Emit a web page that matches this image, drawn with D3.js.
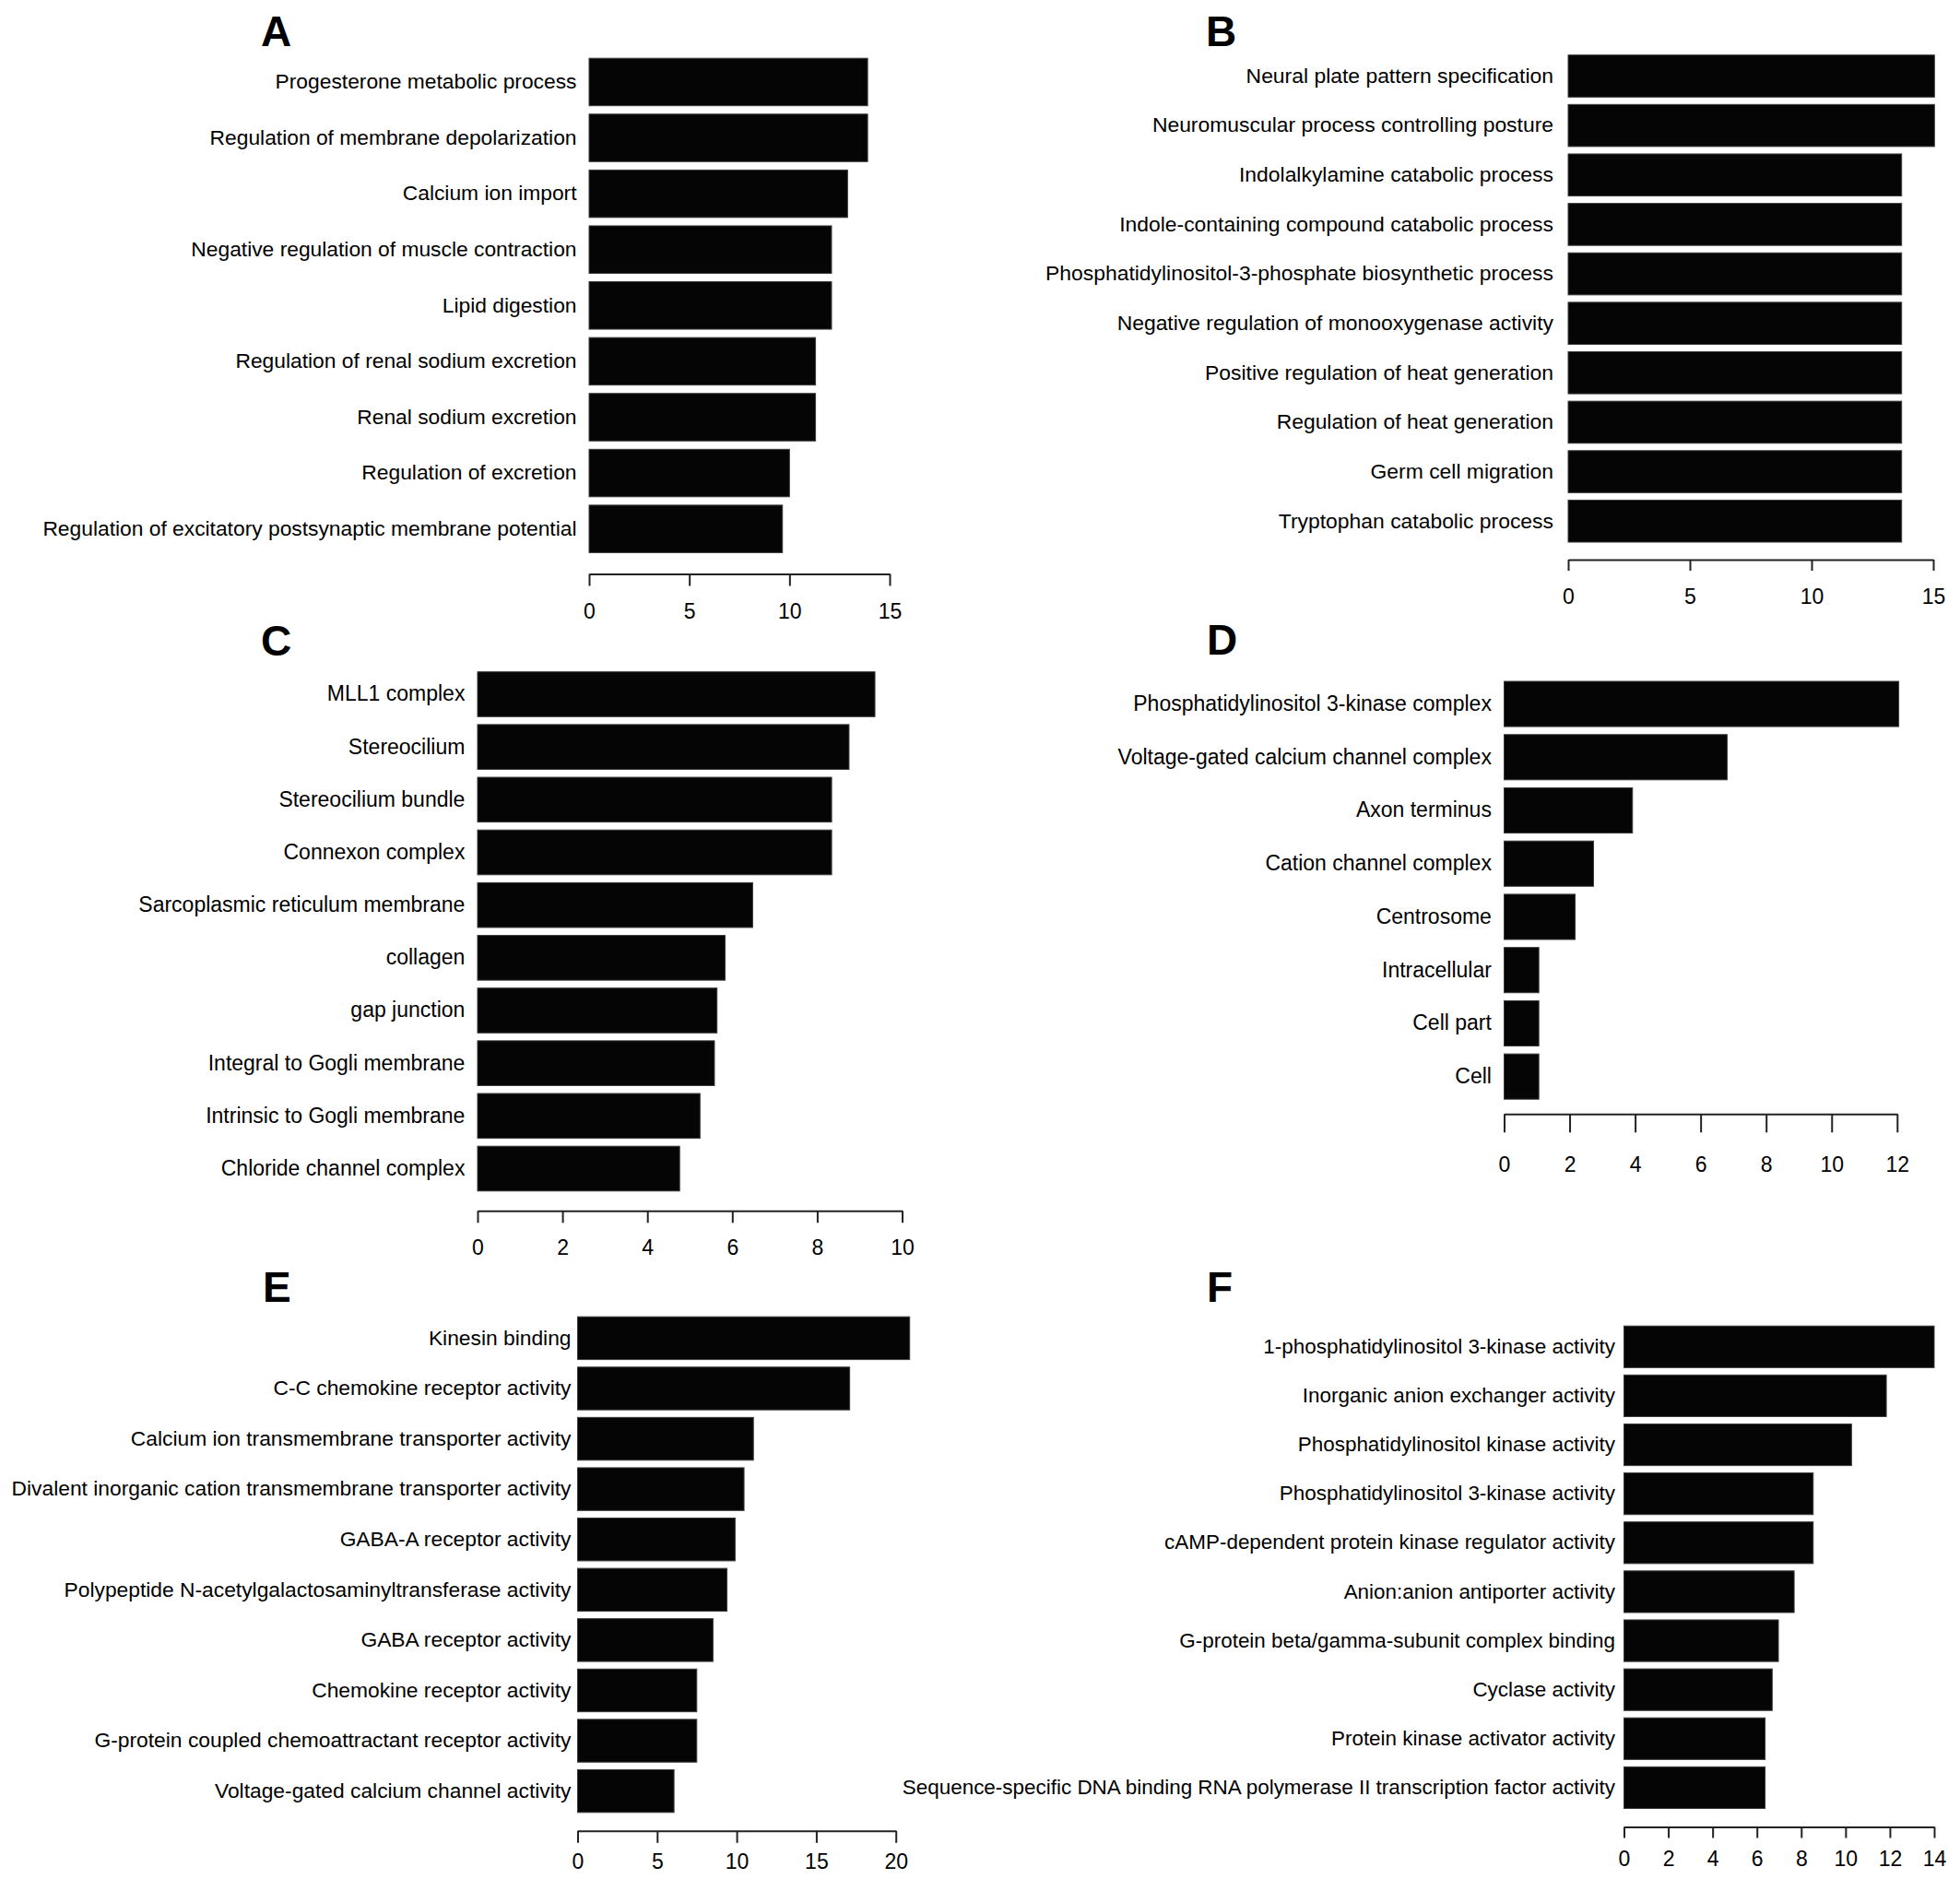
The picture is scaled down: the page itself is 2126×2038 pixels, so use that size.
<!DOCTYPE html>
<html>
<head>
<meta charset="utf-8">
<script src="https://cdn.jsdelivr.net/npm/d3@7"></script>
<style>
  body { margin: 0; background: #fff; }
  svg text { font-family: "Liberation Sans", Arial, Helvetica, sans-serif; }
</style>
</head>
<body>
<div id="chart"></div>
<script>
// panel A - biological process (top)
var termsA = ["Progesterone metabolic process", "Regulation of membrane depolarization", "Calcium ion import",
  "Negative regulation of muscle contraction", "Lipid digestion", "Regulation of renal sodium excretion",
  "Renal sodium excretion", "Regulation of excretion", "Regulation of excitatory postsynaptic membrane potential"];
var valuesA = [13.9, 13.9, 12.9, 12.1, 12.1, 11.3, 11.3, 10.0, 9.65];
var ticksA = [0, 5, 10, 15];

// panel B
var termsB = ["Neural plate pattern specification", "Neuromuscular process controlling posture",
  "Indolalkylamine catabolic process", "Indole-containing compound catabolic process",
  "Phosphatidylinositol-3-phosphate biosynthetic process", "Negative regulation of monooxygenase activity",
  "Positive regulation of heat generation", "Regulation of heat generation", "Germ cell migration",
  "Tryptophan catabolic process"];
var valuesB = [15.05, 15.05, 13.7, 13.7, 13.7, 13.7, 13.7, 13.7, 13.7, 13.7];
var ticksB = [0, 5, 10, 15];

// panel C - cellular component
var termsC = ["MLL1 complex", "Stereocilium", "Stereocilium bundle", "Connexon complex",
  "Sarcoplasmic reticulum membrane", "collagen", "gap junction", "Integral to Gogli membrane",
  "Intrinsic to Gogli membrane", "Chloride channel complex"];
var valuesC = [9.36, 8.75, 8.34, 8.34, 6.48, 5.83, 5.64, 5.58, 5.24, 4.76];
var ticksC = [0, 2, 4, 6, 8, 10];

// panel D
var termsD = ["Phosphatidylinositol 3-kinase complex", "Voltage-gated calcium channel complex", "Axon terminus",
  "Cation channel complex", "Centrosome", "Intracellular", "Cell part", "Cell"];
var valuesD = [12.05, 6.81, 3.92, 2.73, 2.17, 1.06, 1.06, 1.06];
var ticksD = [0, 2, 4, 6, 8, 10, 12];

// panel E - molecular function
var termsE = ["Kinesin binding", "C-C chemokine receptor activity", "Calcium ion transmembrane transporter activity",
  "Divalent inorganic cation transmembrane transporter activity", "GABA-A receptor activity",
  "Polypeptide N-acetylgalactosaminyltransferase activity", "GABA receptor activity",
  "Chemokine receptor activity", "G-protein coupled chemoattractant receptor activity",
  "Voltage-gated calcium channel activity"];
var valuesE = [20.87, 17.1, 11.05, 10.46, 9.9, 9.39, 8.51, 7.49, 7.49, 6.06];
var ticksE = [0, 5, 10, 15, 20];

// panel F
var termsF = ["1-phosphatidylinositol 3-kinase activity", "Inorganic anion exchanger activity",
  "Phosphatidylinositol kinase activity", "Phosphatidylinositol 3-kinase activity",
  "cAMP-dependent protein kinase regulator activity", "Anion:anion antiporter activity",
  "G-protein beta/gamma-subunit complex binding", "Cyclase activity", "Protein kinase activator activity",
  "Sequence-specific DNA binding RNA polymerase II transcription factor activity"];
var valuesF = [14.0, 11.84, 10.27, 8.54, 8.54, 7.68, 6.97, 6.69, 6.37, 6.37];
var ticksF = [0, 2, 4, 6, 8, 10, 12, 14];

var W = 2126, H = 2038;

// layout of each panel, in page pixels
var panels = [
  {letter: "A", lx: 283, ly: 50, terms: termsA, values: valuesA, ticks: ticksA, fs: 22.8,
    xr: [639, 965], yr: [63.2, 599.4], axisY: 622.5, tickLen: 13, labelY: 662.5, gap: 13.5},
  {letter: "B", lx: 1308, ly: 50, terms: termsB, values: valuesB, ticks: ticksB, fs: 22.9,
    xr: [1701, 2097], yr: [59.7, 588], axisY: 607, tickLen: 12, labelY: 646.5, gap: 16},
  {letter: "C", lx: 283, ly: 711, terms: termsC, values: valuesC, ticks: ticksC, fs: 23,
    xr: [518, 978.5], yr: [728.7, 1291.8], axisY: 1313.3, tickLen: 13, labelY: 1353, gap: 13.6},
  {letter: "D", lx: 1309, ly: 710, terms: termsD, values: valuesD, ticks: ticksD, fs: 23,
    xr: [1631.5, 2057.8], yr: [739, 1192.2], axisY: 1208.3, tickLen: 20, labelY: 1262.6, gap: 13.6},
  {letter: "E", lx: 285, ly: 1412, terms: termsE, values: valuesE, ticks: ticksE, fs: 22.8,
    xr: [626.5, 971.7], yr: [1428.2, 1965.8], axisY: 1985.8, tickLen: 13, labelY: 2019.3, gap: 7},
  {letter: "F", lx: 1309, ly: 1412, terms: termsF, values: valuesF, ticks: ticksF, fs: 22.45,
    xr: [1761.5, 2098], yr: [1438.2, 1961.5], axisY: 1981.5, tickLen: 12, labelY: 2016.2, gap: 9.5}
];

var svg = d3.select("#chart").append("svg")
  .attr("width", W)
  .attr("height", H);

svg.append("rect").attr("width", W).attr("height", H).attr("fill", "#fff");

panels.forEach(function(p){
  var data = p.terms.map((t, i) => ({term: t, value: p.values[i]}));

  var x = d3.scaleLinear()
    .domain([0, d3.max(p.ticks)])
    .range(p.xr);

  var y = d3.scaleBand()
    .domain(p.terms)
    .range(p.yr)
    .paddingInner(0.15)
    .paddingOuter(0);

  var g = svg.append("g").attr("class", "panel");

  g.append("text")
    .attr("x", p.lx)
    .attr("y", p.ly)
    .attr("font-size", 46)
    .attr("font-weight", "bold")
    .attr("fill", "#000")
    .text(p.letter);

  g.selectAll("rect.bar")
    .data(data)
    .enter()
    .append("rect")
    .attr("class", "bar")
    .attr("x", x(0))
    .attr("y", d => y(d.term))
    .attr("width", d => x(d.value) - x(0))
    .attr("height", y.bandwidth())
    .attr("fill", "#050505")
    .attr("stroke", "#3a3a3a")
    .attr("stroke-width", 1);

  // category labels, no axis line
  var yAxis = g.append("g")
    .attr("transform", "translate(" + x(0) + ",0)")
    .call(d3.axisLeft(y).tickSize(0).tickPadding(p.gap));
  yAxis.select(".domain").remove();
  yAxis.selectAll("text")
    .attr("font-size", p.fs)
    .attr("font-family", "Liberation Sans, Arial, sans-serif")
    .attr("fill", "#000");

  // value axis, R style with ticks hanging down
  var pad = (p.labelY - p.axisY) - 0.36 * 23 - p.tickLen;
  var xAxis = g.append("g")
    .attr("transform", "translate(0," + p.axisY + ")")
    .call(d3.axisBottom(x).tickValues(p.ticks).tickSize(p.tickLen).tickSizeOuter(0).tickPadding(pad));
  xAxis.select(".domain").attr("stroke", "#222").attr("stroke-width", 2);
  xAxis.selectAll(".tick line").attr("stroke", "#222").attr("stroke-width", 2);
  xAxis.selectAll("text")
    .attr("font-size", 23)
    .attr("font-family", "Liberation Sans, Arial, sans-serif")
    .attr("fill", "#000");
});
</script>
</body>
</html>
